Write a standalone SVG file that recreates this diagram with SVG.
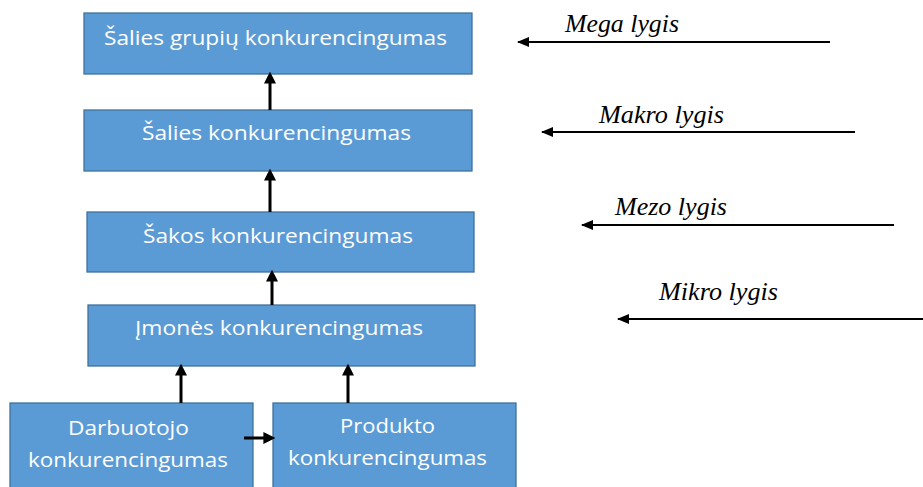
<svg xmlns="http://www.w3.org/2000/svg" width="923" height="487" viewBox="0 0 923 487">
<defs>
<style>
.box{fill:#5B9BD5;stroke:#41719C;stroke-width:1.3}
.bt{font-family:"Open Sans","Liberation Sans",sans-serif;font-size:20.5px;fill:#fff}
.lv{font-family:"Liberation Serif",serif;font-style:italic;font-size:25px;fill:#000}
.c{stroke:#000;stroke-width:3;fill:none}
.h{stroke:#000;stroke-width:1.9;fill:none}
</style>
<marker id="a" markerWidth="4" markerHeight="4" refX="2.2" refY="2" orient="auto" markerUnits="strokeWidth"><path d="M0,0 L4,2 L0,4 z" fill="#000"/></marker>
<marker id="b" markerWidth="12" markerHeight="10" refX="11" refY="5" orient="auto" markerUnits="userSpaceOnUse"><path d="M0,0 L12,5 L0,10 z" fill="#000"/></marker>
</defs>
<g id="n1"><rect class="box" x="84" y="13" width="388" height="61"/><text class="bt" x="104" y="45" textLength="343" lengthAdjust="spacingAndGlyphs">Šalies grupių konkurencingumas</text></g>
<g id="n2"><rect class="box" x="84" y="110" width="388" height="61"/><text class="bt" x="142" y="140" textLength="269" lengthAdjust="spacingAndGlyphs">Šalies konkurencingumas</text></g>
<g id="n3"><rect class="box" x="87" y="212" width="387" height="60"/><text class="bt" x="143" y="243" textLength="270" lengthAdjust="spacingAndGlyphs">Šakos konkurencingumas</text></g>
<g id="n4"><rect class="box" x="88" y="305" width="387" height="61"/><text class="bt" x="135" y="335" textLength="288" lengthAdjust="spacingAndGlyphs">Įmonės konkurencingumas</text></g>
<g id="n5"><rect class="box" x="10" y="403" width="243" height="90"/><text class="bt" x="68" y="435" textLength="121" lengthAdjust="spacingAndGlyphs">Darbuotojo</text><text class="bt" x="28" y="467" textLength="200" lengthAdjust="spacingAndGlyphs">konkurencingumas</text></g>
<g id="n6"><rect class="box" x="273" y="403" width="243" height="90"/><text class="bt" x="340" y="433" textLength="95" lengthAdjust="spacingAndGlyphs">Produkto</text><text class="bt" x="288" y="465" textLength="199" lengthAdjust="spacingAndGlyphs">konkurencingumas</text></g>
<g id="levels">
<text class="lv" x="565" y="32" textLength="114" lengthAdjust="spacingAndGlyphs">Mega lygis</text>
<text class="lv" x="599" y="123" textLength="125" lengthAdjust="spacingAndGlyphs">Makro lygis</text>
<text class="lv" x="615" y="215" textLength="112" lengthAdjust="spacingAndGlyphs">Mezo lygis</text>
<text class="lv" x="659" y="300" textLength="119" lengthAdjust="spacingAndGlyphs">Mikro lygis</text>
</g>
<g id="connectors">
<line class="c" x1="270" y1="110" x2="270" y2="77" marker-end="url(#a)"/>
<line class="c" x1="270" y1="212" x2="270" y2="174" marker-end="url(#a)"/>
<line class="c" x1="272" y1="305" x2="272" y2="275" marker-end="url(#a)"/>
<line class="c" x1="181" y1="403" x2="181" y2="369" marker-end="url(#a)"/>
<line class="c" x1="348" y1="403" x2="348" y2="369" marker-end="url(#a)"/>
<line class="c" x1="244" y1="438" x2="270" y2="438" marker-end="url(#a)"/>
<line class="h" x1="830" y1="42" x2="518" y2="42" marker-end="url(#b)"/>
<line class="h" x1="855" y1="132" x2="542" y2="132" marker-end="url(#b)"/>
<line class="h" x1="894" y1="225" x2="582" y2="225" marker-end="url(#b)"/>
<line class="h" x1="923" y1="319" x2="618" y2="319" marker-end="url(#b)"/>
</g>
</svg>
